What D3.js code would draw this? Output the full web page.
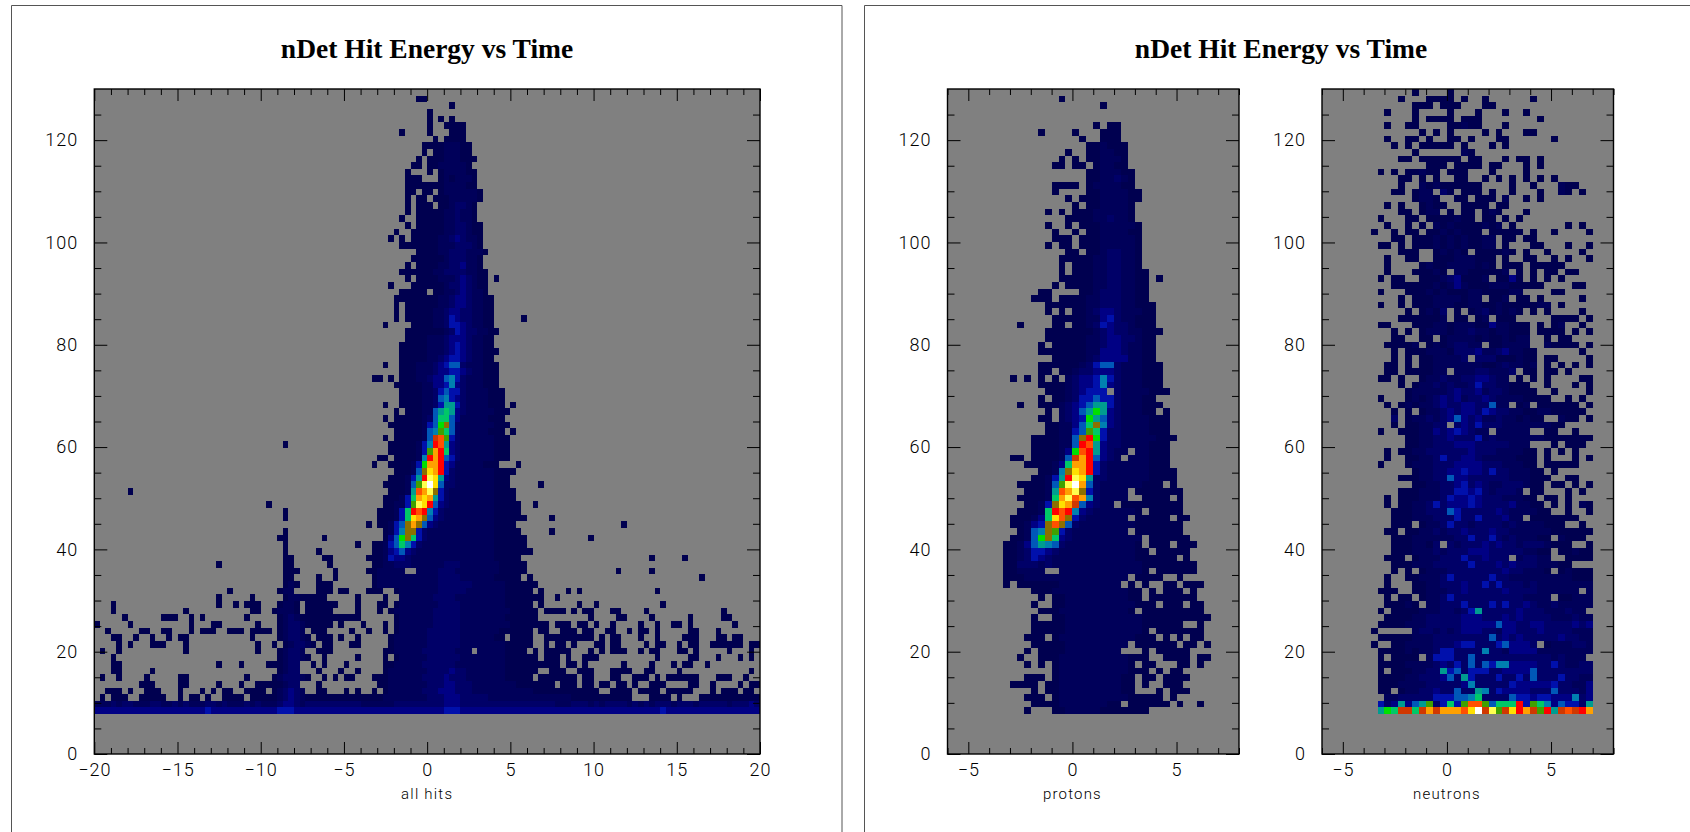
<!doctype html>
<html>
<head>
<meta charset="utf-8">
<script src="https://d3js.org/d3.v7.min.js"></script>
<style>
    html, body { margin: 0; padding: 0; background: white; overflow: hidden; }
    .title { font-family: "Liberation Serif", serif; font-weight: bold; font-size: 27.5px; text-anchor: middle; }
    .tick text, .xname { font-family: "Roboto", sans-serif; font-weight: 300; fill: #000; }
    .tick text { font-size: 18px; letter-spacing: 1px; }
    .xname { font-size: 15px; text-anchor: middle; letter-spacing: 1.2px; }
    .domain { display: none; }
    .tick line { stroke: black; stroke-width: 1; }
</style>
</head>
<body>
<svg id="chart" width="1690" height="832"></svg>
<script>
// colour levels, low counts first (palette of the original display)
var levelColors = ["#000050", "#00005a", "#000068", "#000084", "#0010ac", "#0058b8", "#0080b0", "#009c90",
    "#00c868", "#00e000", "#40a000", "#8c7000", "#d03800", "#ff0000", "#ff5000", "#ffa000", "#ffe000", "#ffff50", "#ffffff"];

var titleText = "nDet Hit Energy vs Time";
var yTicksMajor = [0, 20, 40, 60, 80, 100, 120];
var xTicksAll = [-20, -15, -10, -5, 0, 5, 10, 15, 20];
var xTicksSmall = [-5, 0, 5];

// rows are listed from the top bin (99) down to bin 6, each "column:levels" (base 36 level per cell)
var allHitsRows = [
"","58:11","64:1","60:1","60:1 62:1 64:1","60:1 63:1111","55:1 60:1 64:111","61:1 63:1111","59:111122211","59:1 61:1122211",
"58:1 60:111222111","57:11 60:11222221","56:1 60:1 62:1222211","56:111 62:1212221","56:1111111222211","56:11 59:11 62:12222221","56:1 58:11 61:111222221","56:1 58:111 62:1123321","56:1 58:11111223221","55:1 58:11111223221",
"56:1 58:111112233211","54:1 57:1111112233211","53:1 55:1 57:1111122343221","55:111111122233321","58:1111223332221","57:1111112333221","56:1 58:111122334221","55:1111112233332211","56:1 58:1111222343211 72:1","53:1 57:11111123343211",
"55:11111 61:1122343221","54:111111112234432211","54:1 56:1111112234432211","54:1 56:1111122344332211","54:1 56:1111122354332211 77:1","52:1 57:111122355432211","56:11111112354332211","56:1111222344432211","55:11111222345432211","55:111112223454322111",
"55:11111223455432211","52:1 55:111222345663222111","55:111222344554322111","50:11 53:1 55:111223446753222111","54:1111122445743222111","55:1111223565532222111","55:1111223675432222111","52:1 55:1111223588532222111 75:1","54:1 56:1112268984322222111","52:1 54:11111236996422222111",
"53:1111112 60:56ac63222222111","54:111112 60:67b96322222111 75:1","52:1 54:111112 60:6dfb53222222111","34:1 53:111112 59:57ef843222222111","53:111112 59:5bge943222222111","51:11 54:11112 59:7ege653222222111","50:1 53:11112 58:5agge5422222111 76:1","54:1112 58:6chge5322222221111","53:1112 57:58eih8432222222111","52:11112 57:6bijh6332222222111 80:1",
"6:1 53:1112 57:8fgic53222222221111","52:1112 56:59ghg853222222221111","31:1 52:1122 56:5bihe643222 67:2222211111 79:1","34:1 51:1112 55:59efe7532222 67:2222211111","34:1 51:1112 55:59hgc6432222 67:22222111111 82:1","49:1 51:112 54:56cgc64322222 67:222221111 95:1","34:1 52:12 54:57cc532222222 67:2222211111 82:1","33:11 41:1 52:1 53:46ac9532222222 67:22222111111 89:1","34:1 47:1 50:112 53:569753 59:22222222 67:22222111111","34:1 40:1 50:112 53:45643 58:222222222 67:222221111111",
"34:11 41:11 49:1112 53:5443 57:2222222222 67:2222211111 100:1 106:1","22:1 34:11 42:1 50:1122 54:333 57:2222223332 67:22222211111","34:111 43:1 49:1122222 58:22223332 66:222222211111 94:1 100:1","34:11 40:1 43:1 50:122222222222333322222211111 78:1 109:1","34:121 40:111 50:1222222222 60:2233333322 70:2222111111","24:1 33:122 40:111 44:11 49:111 54:1222222233333222222211111 80:1 85:1 87:1 101:1","22:1 28:1 34:12211111 47:1 52:1 55:22222233332222222221111111 83:1","3:1 22:1 25:1 27:111 33:1221 38:111111 47:1 51:11 54:1222222233332222222211111 80:1 87:1 90:1 102:1","3:1 16:1 28:11 32:12221 38:11111 47:1 51:1 53:122222223333322222222211111 81:1111 86:1 88:11 93:11 99:1 113:1","5:1 12:111 17:1 19:1 27:1 33:12321111111 44:1111 54:12222223333322222222111111 89:1 94:11 100:1 107:1 113:11",
"0:1 6:1 17:1 21:11 29:1 33:1233211111 44:1 48:1 52:1 54:1222222333332222222221111111 83:111 87:11 90:1 93:1 98:1 101:1 104:11 107:1 115:1","2:1 8:11 12:11 17:1 19:111 24:111 28:1111 33:12332 39:111 46:1 49:1 52:1 54:1222223333332222222111111 80:11 84:111 88:11 92:11 96:1 98:11 101:1 107:11 112:1","3:11 7:1 10:1 13:1 15:11 28:1 33:123321 40:111 44:1 47:1 53:122222233333322222211 75:1111 81:111111111 91:1 93:11 98:1 101:1 106:111 112:11 115:11","4:1 6:1 10:111 16:1 29:1 32:1 34:123321 41:11 46:11 53:12222223333332222222211111 81:1 83:11 86:1 90:11 93:11 99:1 101:11 105:1 107:11 111:111111 118:11","1:1 4:1 16:1 29:1 33:12332 40:111 52:1122222333333222 69:222221111 79:1 81:11111 89:1 91:1 93:111 98:1 100:11 105:11 108:1 114:1 118:1","3:1 33:123321 41:1 47:1 52:1 54:12222233333322222222111111 81:111 85:1 88:111 101:1 107:11 112:1 116:1 118:1","3:11 22:1 26:1 31:11 33:1233 39:1 41:1 45:1 52:11222223333332222222221111111111 85:11 88:1 95:1 100:1 104:1 106:11 110:1","3:11 10:1 33:1233 40:1 44:1 47:1 52:1222222233334332222222111111 82:111 87:111 93:1111 99:11 105:1 118:1","1:1 4:1 9:1 15:11 27:1 32:1233321 41:1 43:1 45:11 50:11122222233334333222222211111 80:1111111 88:11 93:11 97:111 101:1 103:111111 112:111 117:1","8:111 15:11 22:1 26:1 29:1111 33:1233 40:1 51:11222222233344333222222221111111 84:111 88:11 91:11 94:11 97:1 100:111 107:11 111:1 116:1 118:11",
"2:111 6:1 9:111 15:1 19:1 21:1 23:11 27:1111 32:123432 40:11 45:1 47:1 50:1 52:122222233344433322222222222111111111111 93:1111 98:1111 103:11111 111:1 113:111 117:11","1:1 3:111 8:11111 15:1 17:11 20:1 23:1111 28:11111 33:23432 38:1111111111111 51:122222222 60:33344433333 71:222222222222222 86:11111111111 100:1111 105:1 109:11111111111","0:222323322233223232223323222323222 33:34432 38:3333333333222 51:222333333 60:33344433333 71:333333333333222 86:3332323333232323332333233333233343","0:444444444444444444445444444444444 33:55544 38:4444444444444 51:444444444 60:44455544444 71:444444444444444 86:4444444444444444544444444444444444"
];

var protonRows = [
"","16:1","22:1","","","21:1 23:11","13:1 18:1 22:111","19:1 22:111","20:112111","17:1 20:112211",
"16:1 18:1 20:112221","15:11 18:11 21:12211","20:1122211","20:1122321","15:1111 20:1222211","15:1 20:11222211","17:1 19:111222211","18:1 20:1122221","14:1 16:1 18:111222221","17:1111223221",
"14:1 17:1 19:111222221","15:1 18:1 20:11222211","15:111 19:111222221","14:1 16:11 19:111222221","17:11 20:11233221","16:111112233221","16:1 18:1112233221","16:1 18:11122332211","16:1111122332211 30:1","15:1 17:111122332211",
"13:11 19:1123332211","12:111 16:1111223332211","14:1111112233322111","14:1 16:1 18:112344322211","15:111112245322111","10:1 15:11 18:112354332111","14:11111112343322111","14:1111112234433211","13:1 15:111112234432211","13:11111112244432211",
"15:111112344442211","13:111111235663222111","13:11 16:112334443222111","9:1 11:1 13:1 15:1 17:23445753222111","13:11112344574 24:3222111","14:111234555 24:32222111","13:1 15:112355655 24:322211","10:1 13:11123456885 24:3222111","14:1 16:2346 20:8a84 24:322211 31:1","13:11 16:2345a864 24:32222111",
"14:1122469c74 24:32222111","14:112256b953 24:32222111","12:1111226cea53 24:322222111","12:1111226ef843 24:32222111","12:11112 17:4afe84 23:322 27:22111","9:11 12:11112 17:6dge6432 26:222111","11:11112 16:49gge532 24:22222111","13:112 16:7chge532 24:222221111","12:112 15:58eih8332 24:222221111","10:11112 15:6bijg6322 24:2222111 32:1",
"11:1112 15:8fgic53 22:2222 27:1111111","10:11112 15:9gifg74 21:32222 28:1111 33:1","11:112 14:5chgd64322 25:111111111","10:1112 14:9efe743 21:2222221 29:11111","9:1112 13:49hfc53 20:222222 27:11111 33:11","9:112 12:45cfc63 19:2222222 26:21111111","10:12 12:67cb53 18:22222222 27:1111111","9:112 12:6ac9 16:43 18:2222222222 29:111111","8:112 11:46876 16:32 18:2222222221 29:111 33:111","8:1123 12:5543 16:2222222222211 30:11111",
"8:1123 12:543 15:222222222222111111 34:1","8:11333 13:23 15:222222222222211111111","8:112222 16:2222222222221 30:111111","8:111222222222222222 27:1111 33:1","8:1 10:111111222222222 26:1 28:1 31:11 34:111","12:1112222222222211 29:1 31:111 35:1","13:1 15:1122222222211 29:1111111","12:1 15:112222222222111 31:111 35:11","13:11122222222221 28:111111111","12:1 15:11222222222221111111111",
"12:1111122222222222111111 36:1","12:11111222222222221 30:1111111","11:111 15:122222222222111 31:1 33:1 35:11","12:11111222222222 27:111111 34:11 37:1","11:1 13:111122222222 28:1 30:11111","10:1 13:1112222222222111 31:1111 36:11","11:1 13:1 15:122222222221 28:11 33:11 36:1","15:12222222222111 30:1 32:11","11:111 15:122222222211 28:11 31:1111","9:1111 14:1122222222211 28:1 31:111",
"12:1 14:1122222222211 30:1 32:111","11:111 15:1222222222211111 32:1","12:1111222222211 26:111111 33:1 36:1","11:1 15:11222221111111"
];

var neutronRows = [
"13:1 18:1","11:1 15:1111 20:1 23:1 30:1","13:111 17:111 23:11","9:1 13:1 18:1 22:1 26:1 29:1","13:1 15:1111 20:111 31:1","9:1 12:11 18:11211 26:1","14:1 16:1 18:1 23:1 25:1 29:11","9:1 12:11 15:1 18:11 21:1 25:11 33:1","10:1 12:1 14:11111 20:1 24:1 26:1","13:1 20:21",
"11:11 14:111111 21:11 26:1 28:11 31:1","15:111 19:1111 24:11 29:1 31:1","8:1 10:1 12:11211 18:111 24:1 29:1","11:11 14:1 16:1 19:11 23:1 25:1 27:1 29:1 31:1 33:1","11:1 14:212111111 27:1 30:1 34:211","10:11 13:122 17:31 20:111 24:1 27:1 31:1 34:21 37:1","13:1221 19:11 22:111 26:2 29:1 31:1","9:1 11:1 14:1211 20:1111 25:11","11:11 14:122 18:1 20:11 23:121 29:1","8:1 12:11 15:1111211 23:11 26:1 28:1",
"9:1 12:1 14:1 16:2121111212 27:1 35:1 37:1","7:1 10:1 12:11 15:11212111 24:11111 30:1 33:1 38:1","10:11 13:111212121122 26:11 29:11","8:11 11:1 13:111212121122 26:1 30:11 35:1 38:1","11:111 16:12121 22:111121 29:1 32:1 37:1","9:1 12:11 16:111222111 26:1 29:11 33:1 35:1 38:1","9:1 14:12112222121 26:111 30:11111","9:1 13:11121 19:22111112 28:1 30:1 32:11 35:11","8:1 10:11 14:1112341112 25:11 27:4 28:1 30:1 32:1 34:1","10:111111212 19:4 20:211122211111 36:11",
"8:1 12:11121211122111122 33:11","11:1 13:1112222122 24:112 28:11 31:1 37:1","8:1 11:1 13:11122211221121111122 34:1","12:1 14:1213 19:1 21:12312121 30:1 32:1 37:1","11:1111112 19:11 22:12 25:111 33:1111 38:1","8:11 13:11122122211422111 31:1 33:12 37:1","10:1 12:1 14:1222122322122111 31:1111 36:1 38:1","10:11 14:11 17:1222212112122 32:1 34:11","9:1111 13:2 15:12123322 24:112222 32:21111 38:1","10:1 12:1112221333422342211 37:1",
"10:1 12:1 14:1122223 22:333 25:111211 32:11 38:1","9:11 12:1 14:11222222211232212 32:1 34:1 36:1 38:1","9:11 12:111122 19:222332223 29:11 32:11 35:1","8:11 11:1 14:1223223344322 28:1 30:1 32:1 37:11","11:1 13:122323223 22:5 23:3322111 32:1 36:1 38:1","12:1222223433423321111 33:1 38:1","8:1 12:121234342334322221111 35:1 37:1","9:1 11:1212234334433622 28:12 31:1111 35:11 38:1","10:1 12:1 14:1223434435433221122 33:11111","10:3 12:122323464342232 27:21211 34:211 38:1",
"10:1 12:112233 19:3435333222222211","8:1 11:1112243454322 25:22222 32:11 36:1","12:112233433352322222221111111","12:112233344433333222 33:1 35:111","9:1 11:11223333334333222211 32:1 34:1 36:1","9:1 12:1122353344322222111 32:1 36:1 38:1","8:1 12:1222333444433322211 32:11111","13:1223344544353322211 33:1","11:1112233644333333222111 35:11","13:1122334534322333211 33:11 36:1 38:1",
"11:111222335545323332 30:11 35:1 37:1","9:1 11:11122235445433322211 32:11 35:1","9:1 11:112235344454333342211 33:1 35:1 37:21","10:11122333653333343222211 35:1 38:1","10:1112223335335333422 30:1111111","10:111 14:122353323333232222111 37:1","9:11 12:112232334333433222222111111","10:11122222233533532322211 34:2111","10:1112213 18:323334343323332111 38:1","10:11122232333444333332211 34:11211",
"9:111 13:12223335334333 28:23322 35:1111","10:11122233333533343433322211","10:1 12:1 14:1222333333334332221 34:12111","9:1 12:112223533333533222222222111","9:1 13:11223334335353332322222222","8:111 13:112223343333343333222222 38:2","9:1 11:11 14:1223533333333332222 34:11222","9:11121 15:223335333535334322322222","8:1 10:1111222332358333334333222322","9:111122333334443334343333222322",
"8:1111222333334444464433443333434","7:1 13:23323234443324433343333222","8:1111122233333333634343333343322","7:1 10:112222333455333564443 32:1222332","8:1111212235533337332444422222222","8:1 10:1111 15:2555336 22:33333333333 33:23222","8:1111222234353636577444433532233","8:1 10:11122338563555334444633333333","8:1111223334638533353353633353322","8:1112222333334733333544444533224",
"8:11 11:1223343363387354444333633324","9:223333355566793333655455444734",
"8:5348468b3595bffb6999e5b97465538",
"8:8a9dd9dgdgggfhjdibdhegdbe8dfdeg"
];

var svg = d3.select("#chart");
var levelIndex = levelColors.map(function(c, i) { return i + 1; });
var color = d3.scaleLinear().domain(levelIndex).range(levelColors).interpolate(d3.interpolateRgb);

function parseRows(rows) {
    var cells = [];
    rows.forEach(function(row, i) {
        var bin = 99 - i;
        row.split(" ").forEach(function(seg) {
            if (seg.indexOf(":") < 0) return;
            var p = seg.split(":"), col = +p[0];
            p[1].split("").forEach(function(ch, k) {
                cells.push({col: col + k, bin: bin, level: parseInt(ch, 36)});
            });
        });
    });
    return cells;
}

// panel frames, the second one runs off the page on the right
svg.append("path").attr("d", "M11.5,832V5.5H842V832").attr("fill", "none").attr("stroke", "#555");
svg.append("path").attr("d", "M864.5,832V5.5H1690").attr("fill", "none").attr("stroke", "#555");
svg.append("text").attr("class", "title").attr("x", 427).attr("y", 58).text(titleText);
svg.append("text").attr("class", "title").attr("x", 1281).attr("y", 58).text(titleText);

var plotTop = 89, plotBottom = 754;
var y = d3.scaleLinear().domain([0, 130]).range([plotBottom, plotTop]);

function drawPlot(cfg) {
    var x = d3.scaleLinear().domain(cfg.domain).range(cfg.range);
    var g = svg.append("g");
    var binW = 1 / 3, binH = 1.3;

    g.append("rect").attr("x", cfg.range[0]).attr("y", plotTop)
        .attr("width", cfg.range[1] - cfg.range[0]).attr("height", plotBottom - plotTop).attr("fill", "#808080");

    g.selectAll(".cell").data(parseRows(cfg.rows)).enter().append("rect")
        .attr("class", "cell")
        .attr("shape-rendering", "crispEdges")
        .attr("x", function(d) { return x(cfg.domain[0] + d.col * binW); })
        .attr("y", function(d) { return y((d.bin + 1) * binH); })
        .attr("width", x(binW) - x(0))
        .attr("height", y(0) - y(binH))
        .attr("fill", function(d) { return color(d.level); });

    var xMinor = d3.range(cfg.domain[0], cfg.domain[1] + 1).filter(function(v) { return v % 5 != 0; });
    var yMinor = d3.range(5, 130, 5).filter(function(v) { return v % 20 != 0; });

    function axis(fn, scale, values, size, translate, labels) {
        var a = fn(scale).tickValues(values).tickSize(size).tickPadding(3);
        if (!labels) a.tickFormat("");
        return g.append("g").attr("transform", translate).call(a);
    }

    var L = cfg.range[0], R = cfg.range[1];
    // ticks point into the plot, so the axes are mirrored with negative sizes
    axis(d3.axisBottom, x, xMinor, -6, "translate(0," + plotBottom + ")");
    axis(d3.axisTop, x, xMinor, -6, "translate(0," + plotTop + ")");
    axis(d3.axisTop, x, cfg.xTicks, -12, "translate(0," + plotTop + ")");
    axis(d3.axisLeft, y, yMinor, -7, "translate(" + L + ",0)");
    axis(d3.axisRight, y, yMinor, -7, "translate(" + R + ",0)");
    axis(d3.axisRight, y, yTicksMajor, -13, "translate(" + R + ",0)");

    var xb = axis(d3.axisBottom, x, cfg.xTicks, -12, "translate(0," + plotBottom + ")", true);
    xb.selectAll("text").attr("y", 9).attr("dy", "0.71em");
    var yl = axis(d3.axisLeft, y, yTicksMajor, -13, "translate(" + L + ",0)", true);
    yl.selectAll("text").attr("x", -16);

    g.append("rect").attr("x", L).attr("y", plotTop).attr("width", R - L).attr("height", plotBottom - plotTop)
        .attr("fill", "none").attr("stroke", "black").attr("stroke-width", 1.4);

    g.append("text").attr("class", "xname").attr("x", x(0)).attr("y", 799).text(cfg.name);
}

drawPlot({rows: allHitsRows, domain: [-20, 20], range: [94.3, 760], xTicks: xTicksAll, name: "all hits"});
drawPlot({rows: protonRows, domain: [-6, 8], range: [947.5, 1239], xTicks: xTicksSmall, name: "protons"});
drawPlot({rows: neutronRows, domain: [-6, 8], range: [1322, 1613.5], xTicks: xTicksSmall, name: "neutrons"});
</script>
</body>
</html>
